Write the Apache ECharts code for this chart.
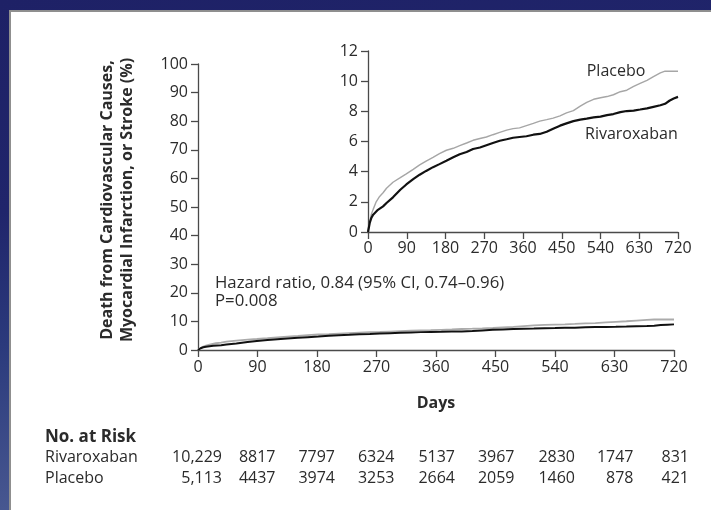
<!DOCTYPE html>
<html>
<head>
<meta charset="utf-8">
<script src="https://cdn.jsdelivr.net/npm/echarts@6/dist/echarts.min.js"></script>
<style>
  html, body { margin: 0; padding: 0; background: #1f2268; }
  #chart { width: 711px; height: 510px; }
</style>
</head>
<body>
<div id="chart"></div>
<script>
// Kaplan-Meier cumulative incidence (%), [day, percent]
const placebo = [
  [0,0],[4,0.7],[8,1.2],[12,1.5],[19,2.0],[27,2.36],[35,2.6],[43,2.9],[58,3.3],[75,3.6],
  [89,3.85],[105,4.15],[120,4.45],[135,4.7],[151,4.95],[166,5.2],[182,5.42],[198,5.55],
  [213,5.72],[229,5.9],[244,6.08],[260,6.2],[275,6.3],[290,6.45],[306,6.6],[322,6.75],
  [337,6.85],[352,6.9],[368,7.05],[384,7.2],[399,7.35],[415,7.45],[430,7.55],[446,7.7],
  [461,7.9],[477,8.05],[493,8.35],[508,8.6],[524,8.8],[540,8.9],[555,8.98],[570,9.1],
  [586,9.3],[601,9.4],[617,9.65],[632,9.85],[648,10.05],[663,10.3],[679,10.55],[690,10.66],
  [720,10.66]
];
const rivaroxaban = [
  [0,0],[4,0.6],[8,0.95],[12,1.15],[23,1.47],[35,1.7],[43,1.92],[58,2.3],[75,2.8],[89,3.15],
  [105,3.5],[120,3.8],[135,4.05],[151,4.3],[166,4.5],[182,4.72],[198,4.95],[213,5.15],
  [229,5.3],[244,5.5],[260,5.6],[275,5.75],[290,5.9],[306,6.05],[322,6.15],[337,6.25],
  [352,6.3],[368,6.35],[384,6.45],[399,6.5],[415,6.65],[430,6.85],[446,7.05],[461,7.2],
  [477,7.35],[493,7.45],[508,7.52],[524,7.6],[540,7.65],[555,7.75],[570,7.82],[586,7.95],
  [601,8.02],[617,8.05],[632,8.12],[648,8.2],[663,8.3],[679,8.4],[690,8.5],[700,8.7],
  [710,8.85],[720,8.96]
];

// Number-at-risk table
const riskDays = [0, 90, 180, 270, 360, 450, 540, 630, 720];
const riskRivaroxaban = ['10,229', '8817', '7797', '6324', '5137', '3967', '2830', '1747', '831'];
const riskPlacebo = ['5,113', '4437', '3974', '3253', '2664', '2059', '1460', '878', '421'];

const hazardText = ['Hazard ratio, 0.84 (95% CI, 0.74\u20130.96)', 'P=0.008'];

const FONT = 'Open Sans';
const INK = '#2b2b2b';
const AXIS = '#4a4a4a';

function axisCommon(margin) {
  return {
    axisLine: { show: true, lineStyle: { color: AXIS, width: 1.3 } },
    axisTick: { show: true, length: 7, lineStyle: { color: AXIS, width: 1.3 } },
    splitLine: { show: false },
    axisLabel: { color: INK, fontFamily: FONT, fontSize: 16, margin: margin }
  };
}

const chart = echarts.init(document.getElementById('chart'), null, { renderer: 'canvas' });

const option = {
  animation: false,
  backgroundColor: {
    type: 'linear', x: 0, y: 0, x2: 0.15, y2: 1,
    colorStops: [
      { offset: 0, color: '#1e2166' },
      { offset: 0.4, color: '#20256b' },
      { offset: 0.65, color: '#2b3a7c' },
      { offset: 1, color: '#4b5b93' }
    ]
  },
  grid: [
    { left: 198, top: 64, width: 476, height: 286 },
    { left: 368, top: 51, width: 310, height: 181 }
  ],
  xAxis: [
    Object.assign(axisCommon(9), {
      gridIndex: 0, type: 'value', min: 0, max: 720, interval: 90,
      name: 'Days', nameLocation: 'middle', nameGap: 45,
      nameTextStyle: { color: INK, fontFamily: FONT, fontSize: 16, fontWeight: 'bold' }
    }),
    Object.assign(axisCommon(8), {
      gridIndex: 1, type: 'value', min: 0, max: 720, interval: 90
    })
  ],
  yAxis: [
    Object.assign(axisCommon(10), {
      gridIndex: 0, type: 'value', min: 0, max: 100, interval: 10,
      name: 'Death from Cardiovascular Causes,\nMyocardial Infarction, or Stroke (%)',
      nameLocation: 'middle', nameGap: 61, nameRotate: 90,
      nameTextStyle: { color: INK, fontFamily: FONT, fontSize: 16, fontWeight: 'bold',
        lineHeight: 20, padding: [0, 0, 0, 14] }
    }),
    Object.assign(axisCommon(10), {
      gridIndex: 1, type: 'value', min: 0, max: 12, interval: 2
    })
  ],
  series: [
    { name: 'Placebo', type: 'line', xAxisIndex: 0, yAxisIndex: 0, data: placebo,
      showSymbol: false, lineStyle: { color: '#ababab', width: 1.8 } },
    { name: 'Rivaroxaban', type: 'line', xAxisIndex: 0, yAxisIndex: 0, data: rivaroxaban,
      showSymbol: false, lineStyle: { color: '#111', width: 2 } },
    { name: 'Placebo', type: 'line', xAxisIndex: 1, yAxisIndex: 1, data: placebo,
      showSymbol: false, lineStyle: { color: '#a6a6a6', width: 1.4 } },
    { name: 'Rivaroxaban', type: 'line', xAxisIndex: 1, yAxisIndex: 1, data: rivaroxaban,
      showSymbol: false, lineStyle: { color: '#111', width: 2.2 } }
  ]
};
chart.setOption(option);

// Panel, annotations, series labels and the risk table
const g = [];
g.push({
  type: 'rect', z: -10, silent: true,
  shape: { x: 10, y: 11, width: 720, height: 520 },
  style: { fill: '#ffffff', stroke: '#8f8f8f', lineWidth: 2 }
});

function txt(x, y, text, opts) {
  return {
    type: 'text', x: x, y: y, z: 10,
    style: Object.assign({
      text: text, fill: INK, font: '16px "' + FONT + '"',
      textAlign: 'left', textVerticalAlign: 'middle'
    }, opts || {})
  };
}

hazardText.forEach(function (t, i) {
  g.push(txt(215, 283 + i * 18, t, { font: '16.8px "' + FONT + '"' }));
});

// Inset curve labels
const labelP = chart.convertToPixel({ xAxisIndex: 1, yAxisIndex: 1 }, [508, 10.65]);
const labelR = chart.convertToPixel({ xAxisIndex: 1, yAxisIndex: 1 }, [504, 6.5]);
g.push(txt(labelP[0], labelP[1], 'Placebo'));
g.push(txt(labelR[0], labelR[1], 'Rivaroxaban'));

g.push(txt(45, 437, 'No. at Risk', { font: 'bold 17px "' + FONT + '"' }));
g.push(txt(45, 457, 'Rivaroxaban'));
g.push(txt(45, 478, 'Placebo'));

const colOffset = [24, 18, 18, 18, 19, 19, 20, 19, 15];
riskDays.forEach(function (d, i) {
  const px = chart.convertToPixel({ xAxisIndex: 0 }, d) + colOffset[i];
  g.push(txt(px, 457, riskRivaroxaban[i], { textAlign: 'right' }));
  g.push(txt(px, 478, riskPlacebo[i], { textAlign: 'right' }));
});

chart.setOption({ graphic: g });
</script>
</body>
</html>
